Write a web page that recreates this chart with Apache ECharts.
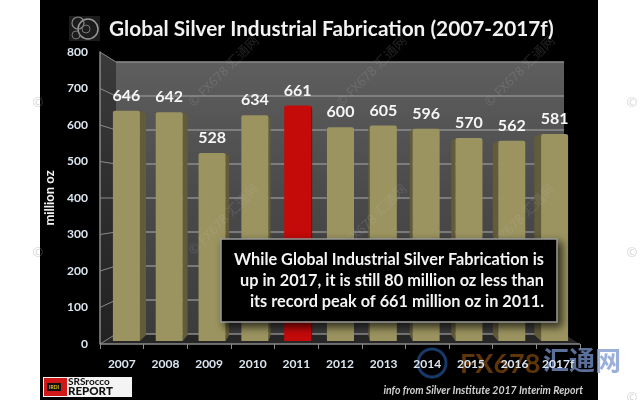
<!DOCTYPE html>
<html>
<head>
<meta charset="utf-8">
<script src="https://cdn.jsdelivr.net/npm/echarts@6/dist/echarts.min.js"></script>
<style>
html, body { margin: 0; padding: 0; background: #fff; }
#main { width: 640px; height: 400px; }
</style>
</head>
<body>
<div id="main"></div>
<script>
var years = ['2007', '2008', '2009', '2010', '2011', '2012', '2013', '2014', '2015', '2016', '2017f'];
var fabrication = [646, 642, 528, 634, 661, 600, 605, 596, 570, 562, 581];
var peakYear = '2011';
var noteLines = [
	'While Global Industrial Silver Fabrication is',
	'up in 2017, it is still 80 million oz less than',
	'its record peak of 661 million oz in 2011.'
];
var font = 'Lato, "Noto Sans", sans-serif';
var cjk = '"Noto Sans", "Noto Sans CJK SC", sans-serif';
var axisText = '#dce6f0';
var khaki = '#9c9460';
var khakiSide = '#625c3a';
var red = '#c50a0a';
var redSide = '#7c0404';

// 墙面和地板 ===========================================================
var graphics = [
	{ type: 'rect', z: -10, silent: true, shape: { x: 40, y: 0, width: 558, height: 400 }, style: { fill: '#000' } },
	{ type: 'rect', z: -9, silent: true, shape: { x: 116, y: 62, width: 448, height: 272 },
		style: { fill: new echarts.graphic.LinearGradient(0, 0, 0, 1, [
			{ offset: 0, color: '#5e5e5e' }, { offset: 0.5, color: '#4a4a4a' }, { offset: 1, color: '#3c3c3c' }
		]) } },
	{ type: 'polygon', z: -9, silent: true, shape: { points: [[100, 52], [116, 62], [116, 334], [100, 344]] },
		style: { fill: new echarts.graphic.LinearGradient(0, 0, 0, 1, [
			{ offset: 0, color: '#3a3a3a' }, { offset: 1, color: '#222' }
		]) } },
	{ type: 'polygon', z: -9, silent: true, shape: { points: [[100, 344], [116, 334], [564, 334], [580, 344]] },
		style: { fill: '#262626' } },
	{ type: 'polyline', z: -8, silent: true, shape: { points: [[100, 344], [580, 344]] },
		style: { stroke: '#8a8a8a', lineWidth: 1.5, fill: null } }
];
// 左墙斜线
for(var i = 0; i <= 8; i++) {
	graphics.push({
		type: 'line', z: -8, silent: true,
		shape: { x1: 100, y1: 344 - i * 36.5, x2: 116, y2: 334 - i * 34 },
		style: { stroke: '#8a8a8a', lineWidth: 1 }
	});
}

// 水印
var marks = [[224, 72], [372, 72], [520, 72], [224, 220], [372, 220], [520, 220]];
for(var i = 0; i < marks.length; i++) {
	graphics.push({
		type: 'text', z: 30, silent: true, x: marks[i][0], y: marks[i][1], rotation: Math.PI / 4,
		style: { text: '© FX678 汇通网', font: '13px ' + cjk, fill: 'rgba(190,190,190,0.18)', align: 'center', verticalAlign: 'middle' }
	});
}
var edgeMarks = [[38, 103], [38, 253], [632, 103], [632, 253], [632, 398]];
for(var i = 0; i < edgeMarks.length; i++) {
	graphics.push({
		type: 'text', z: 30, silent: true, x: edgeMarks[i][0], y: edgeMarks[i][1],
		style: { text: '©', font: '13px ' + cjk, fill: 'rgba(150,150,150,0.4)', align: 'center', verticalAlign: 'middle' }
	});
}
graphics.push(
	{ type: 'text', z: -7, silent: true, x: 460, y: 364, style: { text: 'FX678', font: 'bold 27px ' + font, fill: 'rgba(190,105,20,0.5)', align: 'left', verticalAlign: 'middle' } },
	{ type: 'text', z: -7, silent: true, x: 543, y: 363, style: { text: '汇通网', font: 'bold 26px ' + cjk, fill: 'rgba(120,150,205,0.75)', align: 'left', verticalAlign: 'middle' } },
	{ type: 'circle', z: -7, silent: true, shape: { cx: 432, cy: 363, r: 14 }, style: { fill: 'none', stroke: 'rgba(30,70,130,0.8)', lineWidth: 3 } }
);

// 标题图标和标题
graphics.push(
	{ type: 'rect', z: 5, silent: true, shape: { x: 69, y: 16, width: 31, height: 25 }, style: { fill: '#1c1c1c' } },
	{ type: 'circle', z: 6, silent: true, shape: { cx: 88, cy: 29, r: 10 }, style: { fill: 'none', stroke: '#999', lineWidth: 1.5 } },
	{ type: 'circle', z: 6, silent: true, shape: { cx: 78, cy: 23, r: 6 }, style: { fill: 'none', stroke: '#888', lineWidth: 1.2 } },
	{ type: 'circle', z: 6, silent: true, shape: { cx: 76, cy: 35, r: 4 }, style: { fill: 'none', stroke: '#777', lineWidth: 1 } },
	{ type: 'circle', z: 6, silent: true, shape: { cx: 86, cy: 29, r: 4 }, style: { fill: 'none', stroke: '#777', lineWidth: 1 } },
	{ type: 'text', z: 6, silent: true, x: 109, y: 29, style: { text: 'Global Silver Industrial Fabrication (2007-2017f)', font: 'bold 20.8px ' + font, fill: '#f2f2f2', align: 'left', verticalAlign: 'middle' } }
);

// 说明框
graphics.push({
	type: 'rect', z: 100, silent: true, shape: { x: 221, y: 239, width: 336, height: 83 },
	style: { fill: '#000', stroke: '#9a9a9a', lineWidth: 1.5, shadowBlur: 8, shadowOffsetX: 4, shadowOffsetY: 4, shadowColor: 'rgba(0,0,0,0.7)' }
});
for(var i = 0; i < noteLines.length; i++) {
	graphics.push({
		type: 'text', z: 101, silent: true, x: 544, y: 260 + i * 21,
		style: { text: noteLines[i], font: 'bold 16.3px ' + font, fill: '#f4f4f4', align: 'right', verticalAlign: 'middle' }
	});
}

// 底部
graphics.push(
	{ type: 'rect', z: 5, silent: true, shape: { x: 43, y: 377, width: 89, height: 20 }, style: { fill: '#f4f4f4' } },
	{ type: 'rect', z: 6, silent: true, shape: { x: 44, y: 378, width: 23, height: 18 }, style: { fill: '#d01818' } },
	{ type: 'rect', z: 7, silent: true, shape: { x: 47, y: 383, width: 14, height: 8 }, style: { fill: '#111' } },
	{ type: 'text', z: 8, silent: true, x: 54, y: 387, style: { text: 'IRDI', font: 'bold 5px ' + font, fill: '#e8c020', align: 'center', verticalAlign: 'middle' } },
	{ type: 'text', z: 7, silent: true, x: 68, y: 382, style: { text: 'SRSrocco', font: 'bold 10px ' + font, fill: '#111', align: 'left', verticalAlign: 'middle' } },
	{ type: 'text', z: 7, silent: true, x: 68, y: 391, style: { text: 'REPORT', font: '900 11.5px ' + font, fill: '#111', align: 'left', verticalAlign: 'middle' } },
	{ type: 'text', z: 7, silent: true, x: 583, y: 391, style: { text: 'info from Silver Institute 2017 Interim Report', font: 'italic bold 10.5px ' + font, fill: '#cfcfcf', align: 'right', verticalAlign: 'middle' } }
);

// 柱子侧面 ===========================================================
function renderSide(params, api) {
	var idx = api.value(0);
	var top = api.coord([idx, api.value(1)]);
	var base = api.coord([idx, 0]);
	var half = 13.5;
	var dx = (top[0] - 330) * -0.03; // 透视偏移
	var edge = dx >= 0 ? top[0] + half : top[0] - half;
	return {
		type: 'polygon',
		shape: { points: [[edge, top[1]], [edge + dx, top[1] + 3], [edge + dx, base[1] - 6], [edge, base[1]]] },
		style: { fill: years[idx] === peakYear ? redSide : khakiSide }
	};
}

var option = {
	animation: false,
	backgroundColor: 'transparent',
	grid: [
		{ left: 105, width: 471, top: 56, bottom: 59 },
		{ left: 116, width: 448, top: 62, bottom: 66 },
		{ left: 100, width: 480, top: 52, bottom: 56 }
	],
	xAxis: [
		{ gridIndex: 0, type: 'category', data: years, show: false },
		{ gridIndex: 1, type: 'category', data: years, show: false },
		{
			gridIndex: 2, type: 'category', data: years,
			axisLine: { show: false },
			axisTick: { show: true, length: 5, alignWithLabel: false, lineStyle: { color: '#8a8a8a' } },
			axisLabel: { color: axisText, fontFamily: font, fontWeight: 'bold', fontSize: 12, margin: 14 }
		}
	],
	yAxis: [
		{ gridIndex: 0, type: 'value', min: 0, max: 800, show: false },
		{
			gridIndex: 1, type: 'value', min: 0, max: 800, interval: 100,
			axisLine: { show: false }, axisTick: { show: false }, axisLabel: { show: false },
			splitLine: { show: true, lineStyle: { color: '#8c8c8c', width: 1.5 } }
		},
		{
			gridIndex: 2, type: 'value', min: 0, max: 800, interval: 100,
			name: 'million oz', nameLocation: 'middle', nameGap: 34, nameRotate: 90,
			nameTextStyle: { color: '#f2f2f2', fontFamily: font, fontWeight: 'bold', fontSize: 13 },
			axisLine: { show: true, lineStyle: { color: '#8a8a8a', width: 1.5 } },
			axisTick: { show: false },
			axisLabel: { color: axisText, fontFamily: font, fontWeight: 'bold', fontSize: 12, margin: 12 },
			splitLine: { show: false }
		}
	],
	series: [
		{
			type: 'custom', xAxisIndex: 0, yAxisIndex: 0, z: 2,
			renderItem: renderSide,
			encode: { x: 0, y: 1 },
			data: fabrication.map(function(v, idx) { return [idx, v]; })
		},
		{
			type: 'bar', xAxisIndex: 0, yAxisIndex: 0, z: 3,
			barWidth: 27,
			data: fabrication.map(function(v, idx) {
				return { value: v, itemStyle: { color: years[idx] === peakYear ? red : khaki, borderRadius: [2, 2, 0, 0] } };
			}),
			label: {
				show: true, position: 'top', distance: 7,
				color: '#f6f6f6', fontFamily: font, fontWeight: 'bold', fontSize: 16
			}
		}
	],
	graphic: { elements: graphics }
};

var chart = echarts.init(document.getElementById('main'));
chart.setOption(option);
</script>
</body>
</html>
